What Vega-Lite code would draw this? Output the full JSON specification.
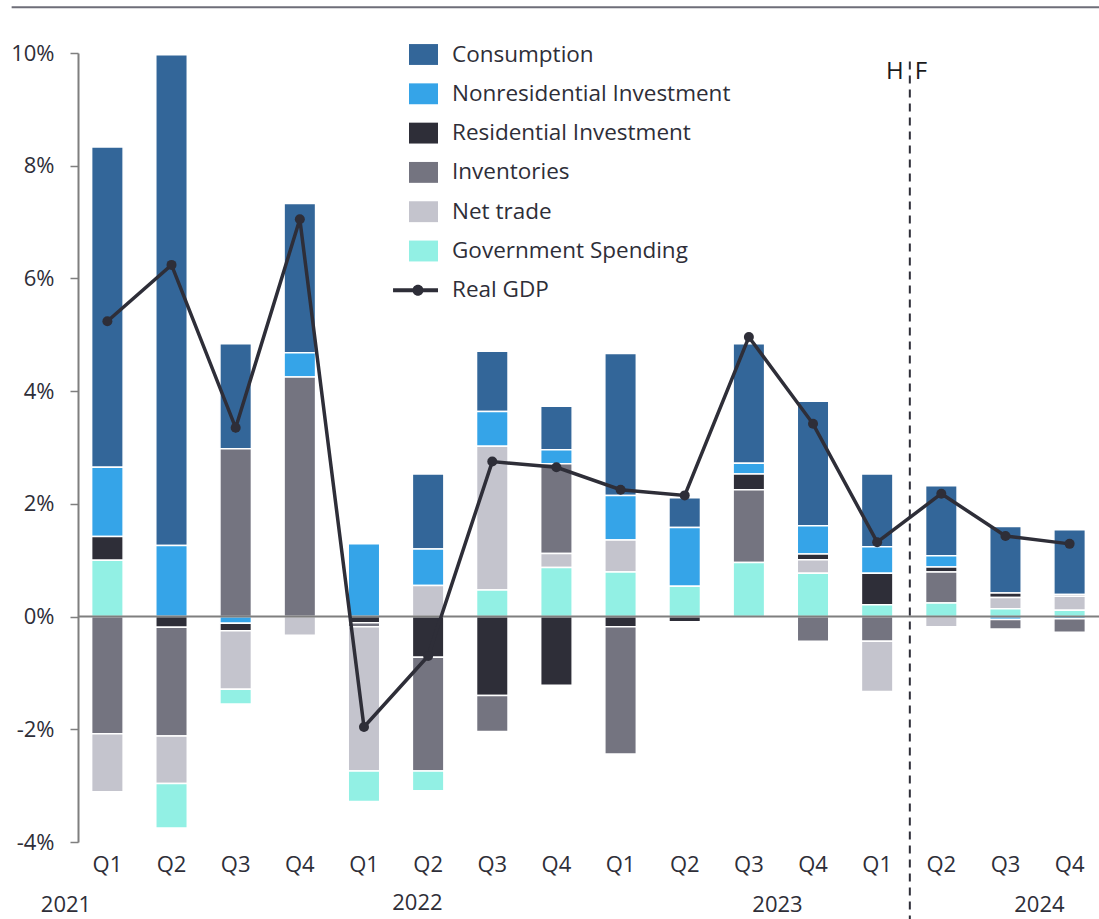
{
  "$schema": "https://vega.github.io/schema/vega-lite/v6.json",
  "width": 1021,
  "height": 789,
  "autosize": {"type": "none"},
  "padding": {"left": 78, "top": 53, "right": 0, "bottom": 77},
  "background": "white",
  "config": {
    "view": {"stroke": null},
    "font": "Open Sans",
    "text": {"font": "Open Sans"}
  },
  "data": {
    "values": [
      {"q": "2021 Q1", "Consumption": 5.68, "Nonresidential Investment": 1.23, "Residential Investment": 0.42, "Inventories": -2.08, "Net trade": -1.03, "Government Spending": 1.0, "gdp": 5.24},
      {"q": "2021 Q2", "Consumption": 8.71, "Nonresidential Investment": 1.26, "Residential Investment": -0.19, "Inventories": -1.93, "Net trade": -0.84, "Government Spending": -0.79, "gdp": 6.24},
      {"q": "2021 Q3", "Consumption": 1.86, "Nonresidential Investment": -0.12, "Residential Investment": -0.13, "Inventories": 2.98, "Net trade": -1.04, "Government Spending": -0.26, "gdp": 3.35},
      {"q": "2021 Q4", "Consumption": 2.65, "Nonresidential Investment": 0.43, "Inventories": 4.25, "Net trade": -0.33, "gdp": 7.05},
      {"q": "2022 Q1", "Nonresidential Investment": 1.29, "Residential Investment": -0.11, "Inventories": -0.07, "Net trade": -2.56, "Government Spending": -0.54, "gdp": -1.96},
      {"q": "2022 Q2", "Consumption": 1.33, "Nonresidential Investment": 0.65, "Residential Investment": -0.72, "Inventories": -2.02, "Net trade": 0.55, "Government Spending": -0.35, "gdp": -0.7},
      {"q": "2022 Q3", "Consumption": 1.07, "Nonresidential Investment": 0.62, "Residential Investment": -1.4, "Inventories": -0.64, "Net trade": 2.55, "Government Spending": 0.47, "gdp": 2.75},
      {"q": "2022 Q4", "Consumption": 0.77, "Nonresidential Investment": 0.25, "Residential Investment": -1.22, "Inventories": 1.59, "Net trade": 0.25, "Government Spending": 0.87, "gdp": 2.65},
      {"q": "2023 Q1", "Consumption": 2.52, "Nonresidential Investment": 0.79, "Residential Investment": -0.18, "Inventories": -2.26, "Net trade": 0.57, "Government Spending": 0.79, "gdp": 2.25},
      {"q": "2023 Q2", "Consumption": 0.53, "Nonresidential Investment": 1.04, "Residential Investment": -0.09, "Government Spending": 0.54, "gdp": 2.15},
      {"q": "2023 Q3", "Consumption": 2.12, "Nonresidential Investment": 0.19, "Residential Investment": 0.28, "Inventories": 1.29, "Government Spending": 0.96, "gdp": 4.96},
      {"q": "2023 Q4", "Consumption": 2.21, "Nonresidential Investment": 0.5, "Residential Investment": 0.1, "Inventories": -0.44, "Net trade": 0.24, "Government Spending": 0.77, "gdp": 3.42},
      {"q": "2024 Q1", "Consumption": 1.29, "Nonresidential Investment": 0.47, "Residential Investment": 0.56, "Inventories": -0.44, "Net trade": -0.89, "Government Spending": 0.21, "gdp": 1.32},
      {"q": "2024 Q2", "Consumption": 1.24, "Nonresidential Investment": 0.2, "Residential Investment": 0.09, "Inventories": 0.55, "Net trade": -0.18, "Government Spending": 0.24, "gdp": 2.18},
      {"q": "2024 Q3", "Consumption": 1.18, "Nonresidential Investment": -0.05, "Residential Investment": 0.08, "Inventories": -0.17, "Net trade": 0.2, "Government Spending": 0.14, "gdp": 1.43},
      {"q": "2024 Q4", "Consumption": 1.15, "Nonresidential Investment": -0.04, "Residential Investment": 0.03, "Inventories": -0.24, "Net trade": 0.25, "Government Spending": 0.11, "gdp": 1.29}
    ]
  },
  "layer": [
    {
      "layer": [
        {
          "transform": [
            {"fold": ["Consumption", "Nonresidential Investment", "Residential Investment", "Inventories", "Net trade", "Government Spending"], "as": ["series", "value"]},
            {"filter": "isValid(datum.value) && datum.value != 0"},
            {"calculate": "(datum.value >= 0 ? 1 : -1) * indexof(['Government Spending', 'Net trade', 'Inventories', 'Residential Investment', 'Nonresidential Investment', 'Consumption'], datum.series)", "as": "ord"}
          ],
          "mark": {"type": "bar", "stroke": "white", "strokeWidth": 1.5},
          "encoding": {
            "x": {
              "field": "q", "type": "nominal", "sort": null,
              "scale": {
                "domain": ["2021 Q1", "2021 Q2", "2021 Q3", "2021 Q4", "2022 Q1", "2022 Q2", "2022 Q3", "2022 Q4", "2023 Q1", "2023 Q2", "2023 Q3", "2023 Q4", "2024 Q1", "2024 Q2", "2024 Q3", "2024 Q4"],
                "paddingInner": 0.509, "paddingOuter": 0.2125
              },
              "axis": {
                "title": null, "labelExpr": "split(datum.label, ' ')[1]", "labelFontSize": 22, "labelFont": "Open Sans",
                "labelColor": "#2e2e38", "domain": false, "ticks": false, "labelPadding": 12, "labelAngle": 0
              }
            },
            "y": {
              "field": "value", "type": "quantitative", "stack": "zero",
              "scale": {"domain": [-4, 10], "nice": false, "zero": false},
              "axis": {
                "title": null, "values": [-4, -2, 0, 2, 4, 6, 8, 10], "labelExpr": "datum.value + '%'",
                "grid": false, "domainColor": "#7f7f7f", "domainWidth": 2, "tickColor": "#7f7f7f",
                "tickWidth": 1.5, "tickSize": 8, "labelPadding": 16, "labelFontSize": 22, "labelFont": "Open Sans", "labelColor": "#2e2e38"
              }
            },
            "color": {
              "field": "series", "type": "nominal",
              "scale": {
                "domain": ["Consumption", "Nonresidential Investment", "Residential Investment", "Inventories", "Net trade", "Government Spending", "Real GDP"],
                "range": ["#336699", "#35a4e8", "#2e2e38", "#747480", "#c4c4cd", "#92f0e4", "#2e2e38"]
              },
              "legend": {
                "orient": "none", "legendX": 331, "legendY": -13, "title": null, "padding": 0,
                "labelFontSize": 22.5, "labelColor": "#2e2e38", "labelFont": "Open Sans", "labelLimit": 400,
                "symbolSize": 841, "symbolStrokeWidth": 0, "symbolOpacity": 1, "labelOffset": 14, "rowPadding": 13.3
              }
            },
            "order": {"field": "ord", "type": "quantitative", "sort": "ascending"}
          }
        },
        {
          "transform": [
            {"fold": ["Consumption"], "as": ["series", "value"]},
            {"filter": "false"}
          ],
          "mark": {"type": "point", "filled": true},
          "encoding": {
            "shape": {
              "field": "series", "type": "nominal",
              "scale": {
                "domain": ["Consumption", "Nonresidential Investment", "Residential Investment", "Inventories", "Net trade", "Government Spending", "Real GDP"],
                "range": ["M-1,-0.72H1V0.72H-1Z", "M-1,-0.72H1V0.72H-1Z", "M-1,-0.72H1V0.72H-1Z", "M-1,-0.72H1V0.72H-1Z", "M-1,-0.72H1V0.72H-1Z", "M-1,-0.72H1V0.72H-1Z", "M-2.1,-0.14H1V0.14H-2.1Z M-0.76,0A0.38,0.38 0 1,1 0,0A0.38,0.38 0 1,1 -0.76,0Z"]
              },
              "legend": {
                "orient": "none", "legendX": 331, "legendY": -13, "title": null, "padding": 0,
                "labelFontSize": 22.5, "labelColor": "#2e2e38", "labelFont": "Open Sans", "labelLimit": 400,
                "symbolSize": 841, "symbolStrokeWidth": 0, "symbolOpacity": 1, "labelOffset": 14, "rowPadding": 13.3
              }
            }
          }
        },
        {
          "data": {"values": [{}]},
          "mark": {"type": "rule", "color": "#7f7f7f", "strokeWidth": 2},
          "encoding": {"y": {"datum": 0}}
        },
        {
          "mark": {"type": "line", "color": "#2e2e38", "strokeWidth": 3.5},
          "encoding": {
            "x": {"field": "q", "type": "nominal", "sort": null},
            "y": {"field": "gdp", "type": "quantitative"}
          }
        },
        {
          "mark": {"type": "point", "filled": true, "color": "#2e2e38", "size": 100, "opacity": 1, "shape": "circle"},
          "encoding": {
            "x": {"field": "q", "type": "nominal", "sort": null},
            "y": {"field": "gdp", "type": "quantitative"}
          }
        },
        {
          "data": {"values": [{}]},
          "mark": {"type": "rule", "color": "#2e2e38", "strokeWidth": 2, "strokeDash": [8, 6]},
          "encoding": {
            "x": {"datum": "2024 Q2", "bandPosition": -0.5},
            "y": {"datum": 9.85},
            "y2": {"datum": -5.6}
          }
        },
        {
          "data": {"values": [{"t": "H"}]},
          "mark": {"type": "text", "align": "right", "dx": -6, "fontSize": 24, "color": "#1a1a1a", "baseline": "alphabetic"},
          "encoding": {
            "x": {"datum": "2024 Q2", "bandPosition": -0.5},
            "y": {"datum": 9.54},
            "text": {"field": "t"}
          }
        },
        {
          "data": {"values": [{"t": "F"}]},
          "mark": {"type": "text", "align": "left", "dx": 5, "fontSize": 24, "color": "#1a1a1a", "baseline": "alphabetic"},
          "encoding": {
            "x": {"datum": "2024 Q2", "bandPosition": -0.5},
            "y": {"datum": 9.54},
            "text": {"field": "t"}
          }
        },
        {
          "data": {"values": [{"year": "2021"}]},
          "mark": {"type": "text", "align": "center", "dx": -41.4, "fontSize": 22, "color": "#2e2e38", "baseline": "alphabetic"},
          "encoding": {"x": {"datum": "2021 Q1"}, "y": {"datum": -5.25}, "text": {"field": "year"}}
        },
        {
          "data": {"values": [{"year": "2022"}]},
          "mark": {"type": "text", "align": "center", "dx": -10.7, "fontSize": 22, "color": "#2e2e38", "baseline": "alphabetic"},
          "encoding": {"x": {"datum": "2022 Q2"}, "y": {"datum": -5.21}, "text": {"field": "year"}}
        },
        {
          "data": {"values": [{"year": "2023"}]},
          "mark": {"type": "text", "align": "center", "dx": 28.6, "fontSize": 22, "color": "#2e2e38", "baseline": "alphabetic"},
          "encoding": {"x": {"datum": "2023 Q3"}, "y": {"datum": -5.25}, "text": {"field": "year"}}
        },
        {
          "data": {"values": [{"year": "2024"}]},
          "mark": {"type": "text", "align": "center", "dx": -30.2, "fontSize": 22, "color": "#2e2e38", "baseline": "alphabetic"},
          "encoding": {"x": {"datum": "2024 Q4"}, "y": {"datum": -5.25}, "text": {"field": "year"}}
        }
      ]
    },
    {
      "data": {"values": [{}]},
      "mark": {"type": "rule", "color": "#6e6e78", "strokeWidth": 2},
      "encoding": {
        "x": {"datum": -0.065, "type": "quantitative", "scale": {"domain": [0, 1]}, "axis": null},
        "x2": {"datum": 1},
        "y": {"datum": 10.81}
      }
    }
  ],
  "resolve": {"scale": {"x": "independent"}}
}
